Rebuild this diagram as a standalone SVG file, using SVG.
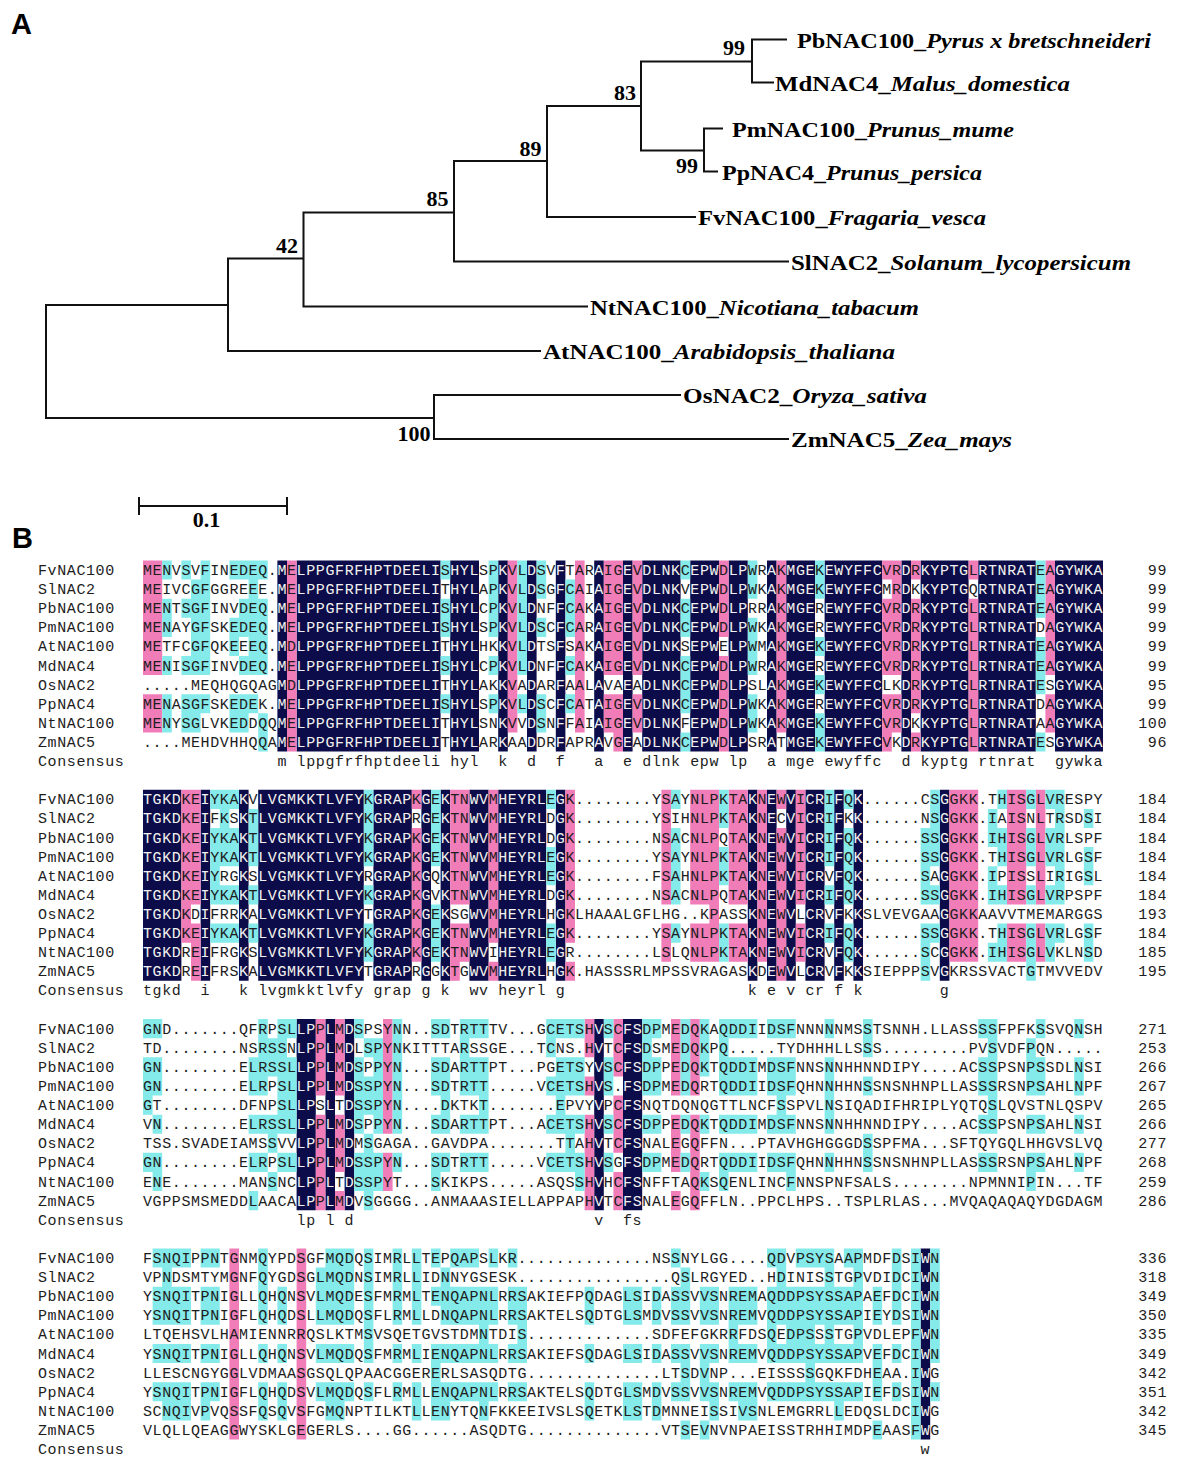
<svg xmlns="http://www.w3.org/2000/svg" xmlns:xlink="http://www.w3.org/1999/xlink" width="1183" height="1462" viewBox="0 0 1183 1462">
<style>
.mono{font-family:"Liberation Mono",monospace;font-size:15px;letter-spacing:0.6px}
.lab{font-family:"Liberation Serif",serif;font-weight:bold;font-size:22px}
.bs{font-family:"Liberation Serif",serif;font-weight:bold;font-size:22px;text-anchor:end}
.panel{font-family:"Liberation Sans",sans-serif;font-weight:bold;font-size:29px}
.br{fill:none;stroke:#111;stroke-width:2;stroke-linecap:square}
</style>
<defs>
<path id="nv" d="M14 0h1v10h-1zM16 0h15v10h-15zM32 0h3v10h-3zM37 0h1v10h-1zM40 0h1v10h-1zM43 0h1v10h-1zM47 0h1v10h-1zM50 0h1v10h-1zM52 0h4v10h-4zM57 0h3v10h-3zM61 0h2v10h-2zM65 0h1v10h-1zM67 0h3v10h-3zM71 0h6v10h-6zM79 0h1v10h-1zM81 0h5v10h-5zM87 0h6v10h-6zM95 0h5v10h-5zM0 12h4v10h-4zM6 12h1v10h-1zM10 12h1v10h-1zM12 12h11v10h-11zM24 12h4v10h-4zM29 12h1v10h-1zM31 12h1v10h-1zM34 12h2v10h-2zM37 12h5v10h-5zM43 12h1v10h-1zM63 12h1v10h-1zM65 12h1v10h-1zM67 12h1v10h-1zM69 12h2v10h-2zM72 12h1v10h-1zM74 12h1v10h-1zM83 12h1v10h-1zM16 24h2v10h-2zM19 24h1v10h-1zM21 24h1v10h-1zM47 24h1v10h-1zM50 24h2v10h-2zM81 36h1v10h-1z"/>
<clipPath id="nvclip"><use xlink:href="#nv" href="#nv" transform="translate(143 560.45) scale(9.6 19.11)"/></clipPath>
</defs>
<rect width="1183" height="1462" fill="#fff"/>

<text class="panel" x="11" y="34">A</text>
<text class="panel" x="12" y="548">B</text>

<g id="connectors" class="br">
<path d="M46 305V418M46 305H228M46 418H434M228 258.5V351M228 351H540M228 258.5H303.5M303.5 212.5V306.5M303.5 306.5H587M303.5 212.5H454M454 161V261.5M454 261.5H788M454 161H547M547 106V217M547 217H695M547 106H641M641 61.5V150.5M641 61.5H752M752 39.5V82.5M752 39.5H786M752 82.5H773M641 150.5H704M704 128.5V171.5M704 128.5H722M704 171.5H717M434 395V439M434 395H680M434 439H788"/>
<path d="M139 506H287M139 498V514M287 498V514"/>
</g>

<g id="bootstrap">
<text class="bs" x="745" y="55">99</text>
<text class="bs" x="636" y="100">83</text>
<text class="bs" x="698" y="173">99</text>
<text class="bs" x="541.5" y="156">89</text>
<text class="bs" x="448.5" y="206">85</text>
<text class="bs" x="298" y="253">42</text>
<text class="bs" x="430.5" y="441">100</text>
<text class="lab" x="206.5" y="527" text-anchor="middle">0.1</text>
</g>

<g id="leaf-Pb"><text class="lab" x="797" y="48" textLength="354" lengthAdjust="spacingAndGlyphs">PbNAC100_<tspan font-style="italic">Pyrus x bretschneideri</tspan></text></g>
<g id="leaf-Md"><text class="lab" x="775" y="91" textLength="295" lengthAdjust="spacingAndGlyphs">MdNAC4_<tspan font-style="italic">Malus_domestica</tspan></text></g>
<g id="leaf-Pm"><text class="lab" x="732" y="137" textLength="282" lengthAdjust="spacingAndGlyphs">PmNAC100_<tspan font-style="italic">Prunus_mume</tspan></text></g>
<g id="leaf-Pp"><text class="lab" x="722" y="180" textLength="260" lengthAdjust="spacingAndGlyphs">PpNAC4_<tspan font-style="italic">Prunus_persica</tspan></text></g>
<g id="leaf-Fv"><text class="lab" x="698" y="225" textLength="288" lengthAdjust="spacingAndGlyphs">FvNAC100_<tspan font-style="italic">Fragaria_vesca</tspan></text></g>
<g id="leaf-Sl"><text class="lab" x="791" y="270" textLength="340" lengthAdjust="spacingAndGlyphs">SlNAC2_<tspan font-style="italic">Solanum_lycopersicum</tspan></text></g>
<g id="leaf-Nt"><text class="lab" x="590" y="315" textLength="329" lengthAdjust="spacingAndGlyphs">NtNAC100_<tspan font-style="italic">Nicotiana_tabacum</tspan></text></g>
<g id="leaf-At"><text class="lab" x="543" y="359" textLength="352" lengthAdjust="spacingAndGlyphs">AtNAC100_<tspan font-style="italic">Arabidopsis_thaliana</tspan></text></g>
<g id="leaf-Os"><text class="lab" x="683" y="403" textLength="244" lengthAdjust="spacingAndGlyphs">OsNAC2_<tspan font-style="italic">Oryza_sativa</tspan></text></g>
<g id="leaf-Zm"><text class="lab" x="791" y="447" textLength="221" lengthAdjust="spacingAndGlyphs">ZmNAC5_<tspan font-style="italic">Zea_mays</tspan></text></g>

<g id="shading" transform="translate(143 560.45) scale(9.6 19.11)">
<use xlink:href="#nv" href="#nv" fill="#0d0c4b"/>
<path fill="#f07cb8" d="M0 0h2v6h-2zM0 7h2v2h-2zM15 0h1v10h-1zM38 0h1v9h-1zM45 0h1v9h-1zM48 0h1v6h-1zM48 7h1v2h-1zM49 0h1v6h-1zM49 7h1v3h-1zM51 0h1v6h-1zM51 7h1v2h-1zM60 0h1v4h-1zM60 5h1v5h-1zM66 0h1v9h-1zM77 0h1v1h-1zM77 2h1v4h-1zM77 7h1v3h-1zM78 0h1v6h-1zM78 7h1v2h-1zM80 0h1v1h-1zM80 2h1v6h-1zM80 9h1v1h-1zM86 0h1v1h-1zM86 2h1v8h-1zM94 0h1v6h-1zM94 7h1v2h-1z
M4 12h1v8h-1zM5 12h1v6h-1zM5 19h1v3h-1zM28 12h1v1h-1zM28 14h1v7h-1zM32 12h1v6h-1zM32 19h1v3h-1zM33 12h1v6h-1zM33 19h1v2h-1zM36 12h1v8h-1zM36 21h1v1h-1zM44 12h1v8h-1zM44 21h1v1h-1zM54 12h1v6h-1zM54 19h1v2h-1zM57 12h2v6h-2zM57 19h2v2h-2zM59 12h1v9h-1zM61 12h2v6h-2zM61 19h2v2h-2zM64 12h1v9h-1zM66 12h1v1h-1zM66 14h1v8h-1zM68 12h1v6h-1zM68 19h1v2h-1zM84 12h3v9h-3zM90 12h2v6h-2zM90 19h2v2h-2zM93 12h1v6h-1zM93 19h1v2h-1z
M18 24h1v4h-1zM18 29h1v5h-1zM20 24h1v4h-1zM20 29h1v3h-1zM20 33h1v1h-1zM25 24h1v6h-1zM25 31h1v2h-1zM46 24h1v2h-1zM46 27h1v1h-1zM46 29h1v5h-1zM49 24h1v3h-1zM49 28h1v3h-1zM49 32h1v2h-1zM55 24h1v4h-1zM55 29h1v3h-1zM55 33h1v1h-1zM57 24h1v4h-1zM57 29h1v5h-1z
M9 36h1v10h-1zM16 36h1v10h-1z"/>
<path fill="#84eaea" d="M2 0h1v1h-1zM2 2h1v2h-1zM2 5h1v1h-1zM2 7h1v2h-1zM4 0h1v1h-1zM4 2h1v1h-1zM4 5h1v1h-1zM4 7h1v2h-1zM5 1h1v5h-1zM5 7h1v2h-1zM6 0h1v6h-1zM6 7h1v1h-1zM9 0h1v1h-1zM9 3h1v2h-1zM9 7h1v2h-1zM10 0h1v1h-1zM10 2h1v2h-1zM10 5h1v1h-1zM10 7h1v2h-1zM11 0h1v6h-1zM11 7h1v1h-1zM12 0h1v1h-1zM12 2h1v4h-1zM12 8h1v2h-1zM31 0h1v1h-1zM31 2h1v2h-1zM31 5h1v1h-1zM31 7h1v1h-1zM36 0h1v4h-1zM36 5h1v1h-1zM36 7h1v1h-1zM39 0h1v6h-1zM39 7h1v1h-1zM41 0h1v2h-1zM41 3h1v1h-1zM41 7h1v2h-1zM44 1h1v3h-1zM44 5h1v1h-1zM44 7h1v1h-1zM56 0h1v1h-1zM56 2h1v2h-1zM56 5h1v3h-1zM56 9h1v1h-1zM63 0h1v2h-1zM63 3h1v3h-1zM63 7h1v2h-1zM70 0h1v2h-1zM70 4h1v1h-1zM70 6h1v1h-1zM70 8h1v2h-1zM93 0h1v3h-1zM93 4h1v3h-1zM93 9h1v1h-1z
M7 12h1v1h-1zM7 14h1v4h-1zM7 19h1v1h-1zM8 12h1v4h-1zM8 17h1v1h-1zM8 19h1v1h-1zM9 12h1v1h-1zM9 14h1v2h-1zM9 17h1v1h-1zM9 19h1v1h-1zM11 13h1v3h-1zM11 17h1v1h-1zM11 19h1v1h-1zM23 12h1v4h-1zM23 17h1v1h-1zM23 19h1v2h-1zM30 12h1v4h-1zM30 18h1v3h-1zM42 12h1v1h-1zM42 15h1v2h-1zM42 19h1v2h-1zM55 12h1v1h-1zM55 14h1v4h-1zM55 19h1v1h-1zM60 12h1v2h-1zM60 15h1v2h-1zM60 19h1v2h-1zM71 12h1v4h-1zM71 17h1v1h-1zM71 19h1v1h-1zM73 12h1v1h-1zM73 14h1v4h-1zM73 19h1v2h-1zM81 14h1v4h-1zM81 19h1v3h-1zM82 12h1v4h-1zM82 17h1v1h-1zM82 19h1v1h-1zM88 13h1v2h-1zM88 16h1v2h-1zM88 20h1v1h-1zM89 12h1v1h-1zM89 14h1v2h-1zM89 17h1v1h-1zM89 19h1v2h-1zM92 12h1v1h-1zM92 14h1v2h-1zM92 17h1v1h-1zM92 19h1v3h-1zM94 12h1v1h-1zM94 14h1v2h-1zM94 17h1v1h-1zM94 19h1v2h-1zM95 12h1v6h-1zM95 19h1v1h-1zM98 13h1v1h-1zM98 15h1v2h-1zM98 19h1v2h-1z
M0 24h1v1h-1zM0 26h1v3h-1zM0 31h1v1h-1zM1 24h1v1h-1zM1 26h1v2h-1zM1 29h1v1h-1zM1 31h1v2h-1zM11 26h1v2h-1zM11 29h1v1h-1zM11 31h1v1h-1zM11 33h1v1h-1zM12 24h1v4h-1zM12 29h1v1h-1zM12 31h1v1h-1zM13 25h1v2h-1zM13 29h1v2h-1zM13 32h1v1h-1zM14 24h1v6h-1zM14 31h1v1h-1zM15 24h1v1h-1zM15 26h1v4h-1zM15 31h1v1h-1zM22 24h1v1h-1zM22 26h1v4h-1zM22 31h1v2h-1zM23 25h1v1h-1zM23 27h1v2h-1zM23 30h1v4h-1zM24 25h1v5h-1zM24 31h1v2h-1zM26 24h1v6h-1zM26 31h1v1h-1zM30 24h1v1h-1zM30 26h1v2h-1zM30 29h1v1h-1zM30 31h1v2h-1zM31 24h1v1h-1zM31 26h1v4h-1zM31 31h1v1h-1zM33 24h1v4h-1zM33 29h1v1h-1zM33 31h1v1h-1zM34 24h1v1h-1zM34 26h1v2h-1zM34 29h1v1h-1zM34 31h1v1h-1zM35 24h1v1h-1zM35 26h1v4h-1zM35 31h1v1h-1zM42 24h1v2h-1zM42 27h1v1h-1zM42 29h1v1h-1zM42 31h1v1h-1zM43 24h1v1h-1zM43 26h1v4h-1zM43 31h1v1h-1zM44 24h1v1h-1zM44 26h1v2h-1zM44 29h1v3h-1zM45 24h1v1h-1zM45 26h1v2h-1zM45 29h1v1h-1zM45 31h1v2h-1zM48 24h1v1h-1zM48 26h1v2h-1zM48 29h1v1h-1zM48 31h1v1h-1zM52 24h1v4h-1zM52 29h1v1h-1zM52 31h1v1h-1zM53 24h1v1h-1zM53 26h1v2h-1zM53 29h1v1h-1zM53 31h1v1h-1zM56 24h1v4h-1zM56 29h1v1h-1zM56 31h1v1h-1zM58 24h1v3h-1zM58 29h1v1h-1zM58 32h1v1h-1zM60 24h1v4h-1zM60 29h1v1h-1zM60 31h1v2h-1zM61 24h3v1h-3zM61 26h3v2h-3zM61 29h3v1h-3zM61 31h3v1h-3zM65 24h1v1h-1zM65 26h1v2h-1zM65 29h1v1h-1zM65 31h1v1h-1zM66 24h1v1h-1zM66 26h1v4h-1zM66 31h1v1h-1zM67 24h1v1h-1zM67 26h1v2h-1zM67 29h1v1h-1zM67 31h1v2h-1zM71 24h1v1h-1zM71 26h1v4h-1zM71 31h1v1h-1zM75 24h1v2h-1zM75 27h1v1h-1zM75 30h1v2h-1zM87 24h1v1h-1zM87 26h1v2h-1zM87 29h1v1h-1zM87 31h1v1h-1zM88 24h1v6h-1zM88 31h1v1h-1zM92 25h1v3h-1zM92 29h1v1h-1zM92 31h1v2h-1zM93 24h1v1h-1zM93 26h1v2h-1zM93 29h1v1h-1zM93 31h1v1h-1zM97 24h1v1h-1zM97 26h1v2h-1zM97 29h1v1h-1zM97 31h1v1h-1z
M1 36h1v1h-1zM1 38h1v2h-1zM1 41h1v1h-1zM1 43h1v1h-1zM2 36h1v4h-1zM2 41h1v1h-1zM2 43h1v2h-1zM3 36h2v1h-2zM3 38h2v2h-2zM3 41h2v1h-2zM3 43h2v2h-2zM6 36h1v1h-1zM6 38h1v2h-1zM6 41h1v1h-1zM6 43h1v2h-1zM7 36h1v1h-1zM7 38h1v2h-1zM7 41h1v1h-1zM7 43h1v1h-1zM12 36h1v4h-1zM12 41h1v1h-1zM12 43h1v2h-1zM14 38h1v2h-1zM14 41h1v1h-1zM14 43h1v2h-1zM18 37h1v3h-1zM18 41h1v1h-1zM18 43h1v1h-1zM19 36h2v4h-2zM19 41h2v1h-2zM19 43h2v2h-2zM21 36h1v4h-1zM21 41h1v1h-1zM21 43h1v1h-1zM23 36h1v6h-1zM23 43h1v1h-1zM26 36h1v4h-1zM26 41h1v1h-1zM26 43h1v1h-1zM28 36h1v4h-1zM28 41h1v1h-1zM28 43h1v2h-1zM30 36h1v1h-1zM30 38h1v1h-1zM30 41h1v4h-1zM31 37h1v3h-1zM31 41h1v1h-1zM31 43h1v2h-1zM32 36h3v1h-3zM32 38h3v2h-3zM32 41h3v1h-3zM32 43h3v1h-3zM35 38h1v4h-1zM35 43h1v2h-1zM36 36h1v1h-1zM36 38h1v2h-1zM36 41h1v1h-1zM36 43h1v1h-1zM38 36h1v1h-1zM38 38h1v2h-1zM38 41h1v1h-1zM38 43h1v1h-1zM39 38h1v4h-1zM39 43h1v1h-1zM46 38h1v2h-1zM46 41h1v1h-1zM46 43h1v2h-1zM50 38h2v2h-2zM50 41h2v1h-2zM50 43h2v2h-2zM53 38h1v2h-1zM53 41h1v1h-1zM53 43h1v2h-1zM55 36h1v1h-1zM55 38h1v2h-1zM55 41h1v1h-1zM55 43h1v1h-1zM56 37h1v3h-1zM56 41h1v3h-1zM56 45h1v1h-1zM58 38h1v2h-1zM58 41h1v3h-1zM58 45h1v1h-1zM59 38h1v2h-1zM59 41h1v1h-1zM59 43h1v2h-1zM61 38h1v4h-1zM61 43h1v1h-1zM62 38h2v2h-2zM62 41h2v1h-2zM62 43h2v2h-2zM65 36h1v1h-1zM65 38h1v4h-1zM65 43h1v1h-1zM66 36h1v4h-1zM66 41h1v1h-1zM66 43h1v1h-1zM67 38h1v4h-1zM67 43h1v1h-1zM68 36h1v1h-1zM68 38h1v4h-1zM68 43h1v1h-1zM69 36h1v1h-1zM69 38h1v6h-1zM70 36h1v1h-1zM70 38h1v2h-1zM70 41h1v1h-1zM70 43h1v1h-1zM71 36h1v6h-1zM71 43h1v1h-1zM72 38h1v2h-1zM72 41h1v1h-1zM72 43h1v2h-1zM73 36h1v1h-1zM73 38h1v2h-1zM73 41h1v1h-1zM73 43h1v1h-1zM74 36h1v6h-1zM74 43h1v1h-1zM76 38h1v2h-1zM76 41h1v3h-1zM76 45h1v1h-1zM78 36h1v4h-1zM78 41h1v1h-1zM78 43h1v1h-1zM80 36h1v10h-1zM82 36h1v6h-1zM82 43h1v1h-1z"/>
</g>

<g id="names" class="mono" fill="#1d1d1d">
<text x="38" y="575">FvNAC100</text><text x="38" y="594.1">SlNAC2</text><text x="38" y="613.2">PbNAC100</text><text x="38" y="632.3">PmNAC100</text><text x="38" y="651.4">AtNAC100</text><text x="38" y="670.6">MdNAC4</text><text x="38" y="689.7">OsNAC2</text><text x="38" y="708.8">PpNAC4</text><text x="38" y="727.9">NtNAC100</text><text x="38" y="747">ZmNAC5</text><text x="38" y="766.1">Consensus</text>
<text x="38" y="804.3">FvNAC100</text><text x="38" y="823.4">SlNAC2</text><text x="38" y="842.5">PbNAC100</text><text x="38" y="861.7">PmNAC100</text><text x="38" y="880.8">AtNAC100</text><text x="38" y="899.9">MdNAC4</text><text x="38" y="919">OsNAC2</text><text x="38" y="938.1">PpNAC4</text><text x="38" y="957.2">NtNAC100</text><text x="38" y="976.3">ZmNAC5</text><text x="38" y="995.4">Consensus</text>
<text x="38" y="1033.6">FvNAC100</text><text x="38" y="1052.8">SlNAC2</text><text x="38" y="1071.9">PbNAC100</text><text x="38" y="1091">PmNAC100</text><text x="38" y="1110.1">AtNAC100</text><text x="38" y="1129.2">MdNAC4</text><text x="38" y="1148.3">OsNAC2</text><text x="38" y="1167.4">PpNAC4</text><text x="38" y="1186.5">NtNAC100</text><text x="38" y="1205.6">ZmNAC5</text><text x="38" y="1224.7">Consensus</text>
<text x="38" y="1263">FvNAC100</text><text x="38" y="1282.1">SlNAC2</text><text x="38" y="1301.2">PbNAC100</text><text x="38" y="1320.3">PmNAC100</text><text x="38" y="1339.4">AtNAC100</text><text x="38" y="1358.5">MdNAC4</text><text x="38" y="1377.6">OsNAC2</text><text x="38" y="1396.7">PpNAC4</text><text x="38" y="1415.8">NtNAC100</text><text x="38" y="1435">ZmNAC5</text><text x="38" y="1454.1">Consensus</text>
</g>

<g id="numbers" class="mono" fill="#1d1d1d" text-anchor="end">
<text x="1167" y="575">99</text><text x="1167" y="594.1">99</text><text x="1167" y="613.2">99</text><text x="1167" y="632.3">99</text><text x="1167" y="651.4">99</text><text x="1167" y="670.6">99</text><text x="1167" y="689.7">95</text><text x="1167" y="708.8">99</text><text x="1167" y="727.9">100</text><text x="1167" y="747">96</text>
<text x="1167" y="804.3">184</text><text x="1167" y="823.4">184</text><text x="1167" y="842.5">184</text><text x="1167" y="861.7">184</text><text x="1167" y="880.8">184</text><text x="1167" y="899.9">184</text><text x="1167" y="919">193</text><text x="1167" y="938.1">184</text><text x="1167" y="957.2">185</text><text x="1167" y="976.3">195</text>
<text x="1167" y="1033.6">271</text><text x="1167" y="1052.8">253</text><text x="1167" y="1071.9">266</text><text x="1167" y="1091">267</text><text x="1167" y="1110.1">265</text><text x="1167" y="1129.2">266</text><text x="1167" y="1148.3">277</text><text x="1167" y="1167.4">268</text><text x="1167" y="1186.5">259</text><text x="1167" y="1205.6">286</text>
<text x="1167" y="1263">336</text><text x="1167" y="1282.1">318</text><text x="1167" y="1301.2">349</text><text x="1167" y="1320.3">350</text><text x="1167" y="1339.4">335</text><text x="1167" y="1358.5">349</text><text x="1167" y="1377.6">342</text><text x="1167" y="1396.7">351</text><text x="1167" y="1415.8">342</text><text x="1167" y="1435">345</text>
</g>

<g id="consensus" class="mono" fill="#1d1d1d">
<text y="766.1"><tspan x="277.4">m</tspan><tspan x="296.6">lppgfrfhptdeeli</tspan><tspan x="450.2">hyl</tspan><tspan x="498.2">k</tspan><tspan x="527">d</tspan><tspan x="555.8">f</tspan><tspan x="594.2">a</tspan><tspan x="623">e</tspan><tspan x="642.2">dlnk</tspan><tspan x="690.2">epw</tspan><tspan x="728.6">lp</tspan><tspan x="767">a</tspan><tspan x="786.2">mge</tspan><tspan x="824.6">ewyffc</tspan><tspan x="901.4">d</tspan><tspan x="920.6">kyptg</tspan><tspan x="978.2">rtnrat</tspan><tspan x="1055">gywka</tspan></text>
<text y="995.4"><tspan x="143">tgkd</tspan><tspan x="200.6">i</tspan><tspan x="239">k</tspan><tspan x="258.2">lvgmkktlvfy</tspan><tspan x="373.4">grap</tspan><tspan x="421.4">g</tspan><tspan x="440.6">k</tspan><tspan x="469.4">wv</tspan><tspan x="498.2">heyrl</tspan><tspan x="555.8">g</tspan><tspan x="747.8">k</tspan><tspan x="767">e</tspan><tspan x="786.2">v</tspan><tspan x="805.4">cr</tspan><tspan x="834.2">f</tspan><tspan x="853.4">k</tspan><tspan x="939.8">g</tspan></text>
<text y="1224.7"><tspan x="296.6">lp</tspan><tspan x="325.4">l</tspan><tspan x="344.6">d</tspan><tspan x="594.2">v</tspan><tspan x="623">fs</tspan></text>
<text y="1454.1"><tspan x="920.6">w</tspan></text>
</g>

<g fill="#1d1d1d">
<g id="seqtext" class="mono">
<text x="143" y="575">MENVSVFINEDEQ.MELPPGFRFHPTDEELISHYLSPKVLDSVFTARAIGEVDLNKCEPWDLPWRAKMGEKEWYFFCVRDRKYPTGLRTNRATEAGYWKA</text>
<text x="143" y="594.1">MEIVCGFGGREEE.MELPPGFRFHPTDEELITHYLAPKVLDSGFCAIAIGEVDLNKVEPWDLPWKAKMGEKEWYFFCMRDKKYPTGQRTNRATEAGYWKA</text>
<text x="143" y="613.2">MENTSGFINVDEQ.MELPPGFRFHPTDEELISHYLCPKVLDNFFCAKAIGEVDLNKCEPWDLPRRAKMGEREWYFFCVRDRKYPTGLRTNRATEAGYWKA</text>
<text x="143" y="632.3">MENAYGFSKEDEQ.MELPPGFRFHPTDEELISHYLSPKVLDSCFCARAIGEVDLNKCEPWDLPWKAKMGEREWYFFCVRDRKYPTGLRTNRATDAGYWKA</text>
<text x="143" y="651.4">METFCGFQKEEEQ.MDLPPGFRFHPTDEELITHYLHKKVLDTSFSAKAIGEVDLNKSEPWELPWMAKMGEKEWYFFCVRDRKYPTGLRTNRATEAGYWKA</text>
<text x="143" y="670.6">MENISGFINVDEQ.MELPPGFRFHPTDEELISHYLCPKVLDNFFCAKAIGEVDLNKCEPWDLPWRAKMGEREWYFFCVRDRKYPTGLRTNRATEAGYWKA</text>
<text x="143" y="689.7">.....MEQHQGQAGMDLPPGFRFHPTDEELITHYLAKKVADARFAALAVAEADLNKCEPWDLPSLAKMGEKEWYFFCLKDRKYPTGLRTNRATESGYWKA</text>
<text x="143" y="708.8">MENASGFSKEDEK.MELPPGFRFHPTDEELISHYLSPKVLDSCFCATAIGEVDLNKCEPWDLPWKAKMGEREWYFFCVRDRKYPTGLRTNRATDAGYWKA</text>
<text x="143" y="727.9">MENYSGLVKEDDQQMELPPGFRFHPTDEELITHYLSNKVVDSNFFAIAIGEVDLNKFEPWDLPWKAKMGEKEWYFFCVRDKKYPTGLRTNRATAAGYWKA</text>
<text x="143" y="747">....MEHDVHHQQAMELPPGFRFHPTDEELITHYLARKAADDRFAPRAVGEADLNKCEPWDLPSRATMGEKEWYFFCVKDRKYPTGLRTNRATESGYWKA</text>
<text x="143" y="804.3">TGKDKEIYKAKVLVGMKKTLVFYKGRAPKGEKTNWVMHEYRLEGK........YSAYNLPKTAKNEWVICRIFQK......CSGGKK.THISGLVRESPY</text>
<text x="143" y="823.4">TGKDKEIFKSKTLVGMKKTLVFYKGRAPRGEKTNWVMHEYRLDGK........YSIHNLPKTAKNECVICRIFKK......NSGGKK.IAISNLTRSDSI</text>
<text x="143" y="842.5">TGKDKEIYKAKTLVGMKKTLVFYKGRAPKGEKTNWVMHEYRLDGK........NSACNLPQTAKNEWVICRIFQK......SSGGKK.IHISGLVRLSPF</text>
<text x="143" y="861.7">TGKDKEIYKAKTLVGMKKTLVFYKGRAPKGEKTNWVMHEYRLEGK........YSAYNLPKTAKNEWVICRIFQK......SSGGKK.THISGLVRLGSF</text>
<text x="143" y="880.8">TGKDKEIYRGKSLVGMKKTLVFYRGRAPKGQKTNWVMHEYRLEGK........FSAHNLPKTAKNEWVICRVFQK......SAGGKK.IPISSLIRIGSL</text>
<text x="143" y="899.9">TGKDKEIYKAKTLVGMKKTLVFYKGRAPKGVKTNWVMHEYRLDGK........NSACNLPQTAKNEWVICRIFQK......SSGGKK.IHISGLVRPSPF</text>
<text x="143" y="919">TGKDKDIFRRKALVGMKKTLVFYTGRAPKGEKSGWVMHEYRLHGKLHAAALGFLHG..KPASSKNEWVLCRVFKKSLVEVGAAGGKKAAVVTMEMARGGS</text>
<text x="143" y="938.1">TGKDKEIYKAKTLVGMKKTLVFYKGRAPKGEKTNWVMHEYRLEGK........YSAYNLPKTAKNEWVICRIFQK......SSGGKK.THISGLVRLGSF</text>
<text x="143" y="957.2">TGKDREIFRGKSLVGMKKTLVFYKGRAPKGEKTNWVIHEYRLEGR........LSLQNLPKTAKNEWVICRVFQK......SCGGKK.IHISGLVKLNSD</text>
<text x="143" y="976.3">TGKDREIFRSKALVGMKKTLVFYTGRAPRGGKTGWVMHEYRLHGK.HASSSRLMPSSVRAGASKDEWVLCRVFKKSIEPPPSVGKRSSVACTGTMVVEDV</text>
<text x="143" y="1033.6">GND.......QFRPSLLPPLMDSPSYNN..SDTRTTTV...GCETSHVSCFSDPMEDQKAQDDIIDSFNNNNNMSSTSNNH.LLASSSSFPFKSSVQNSH</text>
<text x="143" y="1052.8">TD........NSRSSNLPPLMDLSPYNKITTTARSSGE...TCNS.HVTCFSDSMEDQKPQ.....TYDHHHLLSSS.........PVSVDFPQN.....</text>
<text x="143" y="1071.9">GN........ELRSSLLPPLMDSPPYN...SDARTTPT...PGETSYVSCFSDPPEDQKTQDDIMDSFNNSNNHHNNDIPY....ACSSPSNPSSDLNSI</text>
<text x="143" y="1091">GN........ELRPSLLPPLMDSSPYN...SDTRTT.....VCETSHVS.FSDPMEDQRTQDDIIDSFQHNNHHNSSNSNHNPLLASSSRSNPSAHLNPF</text>
<text x="143" y="1110.1">GT........DFNPSLLPSLTDSSPYN....DKTKT.......EPVYVPCFSNQTDQNQGTTLNCFSSPVLNSIQADIFHRIPLYQTQSLQVSTNLQSPV</text>
<text x="143" y="1129.2">VN........ELRSSLLPPLMDSPPYN...SDARTTPT...ACETSHVSCFSDPPEDQKTQDDIMDSFNNSNNHHNNDIPY....ACSSPSNPSAHLNSI</text>
<text x="143" y="1148.3">TSS.SVADEIAMSSVVLPPLMDMSGAGA..GAVDPA.......TTAHVTCFSNALEGQFFN...PTAVHGHGGGDSSPFMA...SFTQYGQLHHGVSLVQ</text>
<text x="143" y="1167.4">GN........ELRPSLLPPLMDSSPYN...SDTRTT.....VCETSHVSGFSDPMEDQRTQDDIIDSFQHNNHHNSSNSNHNPLLASSSRSNPSAHLNPF</text>
<text x="143" y="1186.5">ENE.......MANSNCLPPLTDSSPYT...SKIKPS.....ASQSSHVHCFSNFFTAQKSQENLINCFNNSPNFSALS........NPMNNIPIN...TF</text>
<text x="143" y="1205.6">VGPPSMSMEDDLAACALPPLMDVSGGGG..ANMAAASIELLAPPAPHVTCFSNALEGQFFLN..PPCLHPS..TSPLRLAS...MVQAQAQAQYDGDAGM</text>
<text x="143" y="1263">FSNQIPPNTGNMQYPDSGFMQDQSIMRLLTEPQAPSLKR..............NSSNYLGG....QDVPSYSAAPMDFDSIWN</text>
<text x="143" y="1282.1">VPNDSMTYMGNFQYGDSGLMQDNSIMRLLIDNNYGSESK................QSLRGYED..HDINISSTGPVDIDCIWN</text>
<text x="143" y="1301.2">YSNQITPNIGLLQHQNSVLMQDESFMRMLTENQAPNLRRSAKIEFPQDAGLSIDASSVVSNREMAQDDPSYSSAPAEFDCIWN</text>
<text x="143" y="1320.3">YSNQITPNIGFLQHQDSLLMQDQSFLRMLLDNQAPNLRRSAKTELSQDTGLSMDVSSVVSNREMVQDDPSYSSAPIEYDSIWN</text>
<text x="143" y="1339.4">LTQEHSVLHAMIENNRRQSLKTMSVSQETGVSTDMNTDIS.............SDFEFGKRRFDSQEDPSSSTGPVDLEPFWN</text>
<text x="143" y="1358.5">YSNQITPNIGLLQHQNSVLMQDQSFMRMLIENQAPNLRRSAKIEFSQDAGLSIDASSVVSNREMVQDDPSYSSAPVEFDCIWN</text>
<text x="143" y="1377.6">LLESCNGYGGLVDMAASGSQLQPAACGGERERLSASQDTG..............LTSDVNP...EISSSSGQKFDHEAA.IWG</text>
<text x="143" y="1396.7">YSNQITPNIGFLQHQDSVLMQDQSFLRMLLENQAPNLRRSAKTELSQDTGLSMDVSSVVSNREMVQDDPSYSSAPIEFDSIWN</text>
<text x="143" y="1415.8">SCNQIVPVQSSFQSQVSFGMQNPTILKTLLENYTQNFKKEEIVSLSQETKLSTDMNNEISSIVSNLEMGRRLLEDQSLDCIWG</text>
<text x="143" y="1435">VLQLLQEAGGWYSKLGEGERLS....GG......ASQDTG..............VTSEVNVNPAEISSTRHHIMDPEAASFWG</text>
</g>
</g>
<use xlink:href="#seqtext" href="#seqtext" fill="#f0f0f6" clip-path="url(#nvclip)"/>
</svg>
